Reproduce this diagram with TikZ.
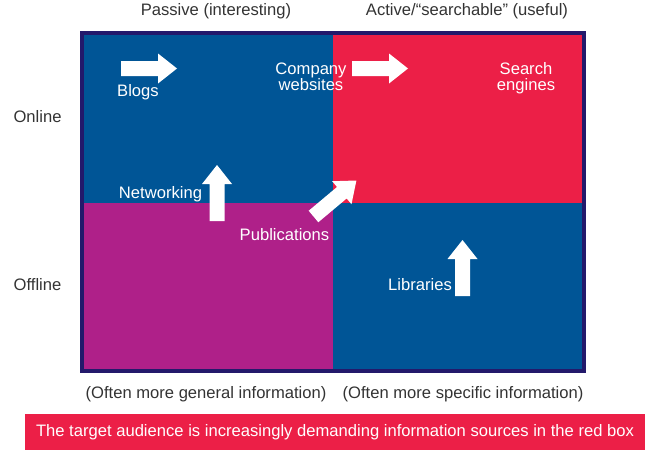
\documentclass[tikz,border=0pt]{standalone}
\usepackage{fontspec}
\setmainfont{Liberation Sans}
\definecolor{qblue}{HTML}{005596}
\definecolor{qred}{HTML}{EC1F47}
\definecolor{qpurple}{HTML}{AF2089}
\definecolor{qnavy}{HTML}{23196B}
\definecolor{qgray}{HTML}{333333}
\tikzset{
  lbl/.style={anchor=base, inner sep=0pt, text=qgray, font=\fontsize{16.6}{17}\selectfont},
  wlbl/.style={anchor=base, inner sep=0pt, text=white, font=\fontsize{16.6}{17}\selectfont, align=center},
  blockarrow/.pic={\fill[white] (0,-7.5) -- (37,-7.5) -- (37,-15) -- (56,0) -- (37,15) -- (37,7.5) -- (0,7.5) -- cycle;}
}
\begin{document}
\begin{tikzpicture}[x=1pt,y=-1pt]
\useasboundingbox (0,0) rectangle (671,450);
% quadrants
\fill[qblue] (84,35) rectangle (333,203);
\fill[qred] (333,35) rectangle (582,203);
\fill[qpurple] (84,203) rectangle (333,369);
\fill[qblue] (333,203) rectangle (582,369);
\draw[qnavy, line width=4pt] (82,33) rectangle (584,371);
% red banner
\fill[qred] (25,414) rectangle (645,450);
% headings
\node[lbl] (passive) at (216,15) {Passive (interesting)};
\node[lbl] (active) at (467,15) {Active/“searchable” (useful)};
\node[lbl] (online) at (37.5,122.5) {Online};
\node[lbl] (offline) at (37.5,290.5) {Offline};
\node[lbl] (general) at (206,398.5) {(Often more general information)};
\node[lbl] (specific) at (463,398.5) {(Often more specific information)};
\node[wlbl] (banner) at (335,436.7) {The target audience is increasingly demanding information sources in the red box};
% arrows
\pic at (121,68.5) {blockarrow};
\pic at (352,68.5) {blockarrow};
\pic[rotate=90] at (217,221) {blockarrow};
\pic[rotate=90] at (462.5,296) {blockarrow};
\pic[rotate=40] at (313.5,216.5) {blockarrow};
% labels in quadrants
\node[wlbl] (blogs) at (138,96) {Blogs};
\node[wlbl] (company1) at (311,74) {Company};
\node[wlbl] (company2) at (311,90.5) {websites};
\node[wlbl] (search1) at (526,74) {Search};
\node[wlbl] (search2) at (526,90.5) {engines};
\node[wlbl] (networking) at (160.5,198.3) {Networking};
\node[wlbl] (publications) at (284.5,240) {Publications};
\node[wlbl] (libraries) at (420,290) {Libraries};
\end{tikzpicture}
\end{document}
